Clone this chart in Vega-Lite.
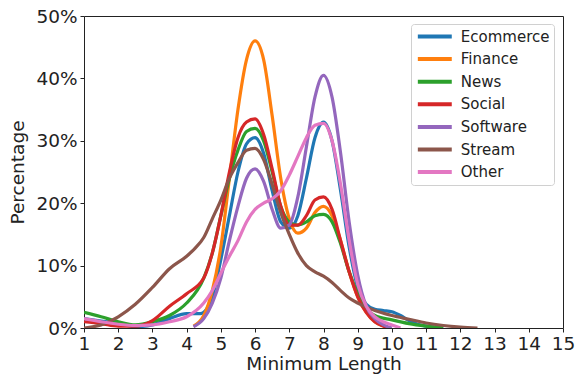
{
  "$schema": "https://vega.github.io/schema/vega-lite/v6.json",
  "width": 479,
  "height": 312,
  "autosize": {"type": "none"},
  "padding": {"left": 84, "top": 16, "right": 13, "bottom": 48},
  "background": "white",
  "config": {
    "font": "DejaVu Sans",
    "view": {"stroke": "#222", "strokeWidth": 1}
  },
  "datasets": {
    "kde": [
      {"c":"Ecommerce","x":1,"y":1.5},{"c":"Ecommerce","x":1.5,"y":1.1},{"c":"Ecommerce","x":2,"y":0.7},{"c":"Ecommerce","x":2.5,"y":0.2},{"c":"Ecommerce","x":3,"y":0.5},{"c":"Ecommerce","x":3.5,"y":1.5},{"c":"Ecommerce","x":4,"y":2.3},{"c":"Ecommerce","x":4.4,"y":2.3},{"c":"Ecommerce","x":4.75,"y":5},{"c":"Ecommerce","x":5,"y":11},{"c":"Ecommerce","x":5.25,"y":18},{"c":"Ecommerce","x":5.5,"y":25},{"c":"Ecommerce","x":5.75,"y":29.5},{"c":"Ecommerce","x":6,"y":30.5},{"c":"Ecommerce","x":6.25,"y":28},{"c":"Ecommerce","x":6.5,"y":22},{"c":"Ecommerce","x":6.75,"y":17},{"c":"Ecommerce","x":7,"y":16},{"c":"Ecommerce","x":7.25,"y":18},{"c":"Ecommerce","x":7.5,"y":24},{"c":"Ecommerce","x":7.75,"y":30.5},{"c":"Ecommerce","x":8,"y":33},{"c":"Ecommerce","x":8.25,"y":30},{"c":"Ecommerce","x":8.5,"y":22},{"c":"Ecommerce","x":8.75,"y":13},{"c":"Ecommerce","x":9,"y":6.5},{"c":"Ecommerce","x":9.25,"y":3.8},{"c":"Ecommerce","x":9.5,"y":3},{"c":"Ecommerce","x":9.75,"y":2.8},{"c":"Ecommerce","x":10,"y":2.6},{"c":"Ecommerce","x":10.25,"y":2},{"c":"Ecommerce","x":10.5,"y":1.2},{"c":"Ecommerce","x":10.75,"y":0.6},{"c":"Ecommerce","x":11,"y":0.3},{"c":"Ecommerce","x":11.5,"y":0},
      {"c":"Finance","x":4.2,"y":0.3},{"c":"Finance","x":4.5,"y":2},{"c":"Finance","x":4.75,"y":6},{"c":"Finance","x":5,"y":13},{"c":"Finance","x":5.25,"y":24},{"c":"Finance","x":5.5,"y":35},{"c":"Finance","x":5.75,"y":43},{"c":"Finance","x":6,"y":46},{"c":"Finance","x":6.25,"y":43},{"c":"Finance","x":6.5,"y":34},{"c":"Finance","x":6.75,"y":24},{"c":"Finance","x":7,"y":17.5},{"c":"Finance","x":7.25,"y":15.2},{"c":"Finance","x":7.5,"y":16},{"c":"Finance","x":7.75,"y":18.5},{"c":"Finance","x":8,"y":19.5},{"c":"Finance","x":8.25,"y":18},{"c":"Finance","x":8.5,"y":14},{"c":"Finance","x":8.75,"y":9},{"c":"Finance","x":9,"y":5},{"c":"Finance","x":9.25,"y":2.5},{"c":"Finance","x":9.5,"y":1},{"c":"Finance","x":9.75,"y":0.3},{"c":"Finance","x":9.9,"y":0},
      {"c":"News","x":1,"y":2.5},{"c":"News","x":1.5,"y":1.8},{"c":"News","x":2,"y":1},{"c":"News","x":2.5,"y":0.5},{"c":"News","x":3,"y":1},{"c":"News","x":3.5,"y":2},{"c":"News","x":4,"y":4},{"c":"News","x":4.5,"y":8},{"c":"News","x":4.75,"y":12},{"c":"News","x":5,"y":18},{"c":"News","x":5.25,"y":24},{"c":"News","x":5.5,"y":28.5},{"c":"News","x":5.75,"y":31.5},{"c":"News","x":6,"y":32},{"c":"News","x":6.25,"y":30},{"c":"News","x":6.5,"y":25},{"c":"News","x":6.75,"y":19.5},{"c":"News","x":7,"y":17},{"c":"News","x":7.25,"y":16.5},{"c":"News","x":7.5,"y":17},{"c":"News","x":7.75,"y":18},{"c":"News","x":8,"y":18.2},{"c":"News","x":8.25,"y":17},{"c":"News","x":8.5,"y":13.5},{"c":"News","x":8.75,"y":9},{"c":"News","x":9,"y":5.5},{"c":"News","x":9.25,"y":3},{"c":"News","x":9.5,"y":2},{"c":"News","x":10,"y":1.3},{"c":"News","x":10.5,"y":0.7},{"c":"News","x":11,"y":0.3},{"c":"News","x":11.5,"y":0},
      {"c":"Social","x":1,"y":1},{"c":"Social","x":1.5,"y":0.7},{"c":"Social","x":2,"y":0.3},{"c":"Social","x":2.5,"y":0.3},{"c":"Social","x":3,"y":1.2},{"c":"Social","x":3.5,"y":3.5},{"c":"Social","x":4,"y":5.5},{"c":"Social","x":4.5,"y":8},{"c":"Social","x":4.75,"y":12},{"c":"Social","x":5,"y":18},{"c":"Social","x":5.25,"y":25},{"c":"Social","x":5.5,"y":30.5},{"c":"Social","x":5.75,"y":33},{"c":"Social","x":6,"y":33.5},{"c":"Social","x":6.25,"y":31},{"c":"Social","x":6.5,"y":25.5},{"c":"Social","x":6.75,"y":19.5},{"c":"Social","x":7,"y":16.5},{"c":"Social","x":7.25,"y":16.5},{"c":"Social","x":7.5,"y":18},{"c":"Social","x":7.75,"y":20.5},{"c":"Social","x":8,"y":21},{"c":"Social","x":8.25,"y":19},{"c":"Social","x":8.5,"y":14},{"c":"Social","x":8.75,"y":9},{"c":"Social","x":9,"y":5},{"c":"Social","x":9.25,"y":2.5},{"c":"Social","x":9.5,"y":1},{"c":"Social","x":9.75,"y":0.3},{"c":"Social","x":9.9,"y":0},
      {"c":"Software","x":4.2,"y":0.2},{"c":"Software","x":4.5,"y":1.5},{"c":"Software","x":4.75,"y":4},{"c":"Software","x":5,"y":8},{"c":"Software","x":5.25,"y":14},{"c":"Software","x":5.5,"y":19.5},{"c":"Software","x":5.75,"y":24},{"c":"Software","x":6,"y":25.5},{"c":"Software","x":6.25,"y":23.5},{"c":"Software","x":6.5,"y":19},{"c":"Software","x":6.75,"y":16},{"c":"Software","x":7,"y":16.5},{"c":"Software","x":7.25,"y":21},{"c":"Software","x":7.5,"y":29},{"c":"Software","x":7.75,"y":37},{"c":"Software","x":8,"y":40.5},{"c":"Software","x":8.25,"y":37},{"c":"Software","x":8.5,"y":28},{"c":"Software","x":8.75,"y":17},{"c":"Software","x":9,"y":8.5},{"c":"Software","x":9.25,"y":3.5},{"c":"Software","x":9.5,"y":1.5},{"c":"Software","x":9.75,"y":0.5},{"c":"Software","x":10,"y":0},
      {"c":"Stream","x":1,"y":0},{"c":"Stream","x":1.5,"y":0.5},{"c":"Stream","x":2,"y":1.8},{"c":"Stream","x":2.5,"y":3.8},{"c":"Stream","x":3,"y":6.5},{"c":"Stream","x":3.5,"y":9.5},{"c":"Stream","x":4,"y":11.5},{"c":"Stream","x":4.25,"y":12.8},{"c":"Stream","x":4.5,"y":14.5},{"c":"Stream","x":4.75,"y":17.5},{"c":"Stream","x":5,"y":20.5},{"c":"Stream","x":5.25,"y":24},{"c":"Stream","x":5.5,"y":26.5},{"c":"Stream","x":5.75,"y":28.5},{"c":"Stream","x":6,"y":28.8},{"c":"Stream","x":6.25,"y":27},{"c":"Stream","x":6.5,"y":23},{"c":"Stream","x":6.75,"y":18.5},{"c":"Stream","x":7,"y":15},{"c":"Stream","x":7.25,"y":12},{"c":"Stream","x":7.5,"y":10},{"c":"Stream","x":7.75,"y":9},{"c":"Stream","x":8,"y":8.3},{"c":"Stream","x":8.25,"y":7.3},{"c":"Stream","x":8.5,"y":6},{"c":"Stream","x":8.75,"y":4.8},{"c":"Stream","x":9,"y":4},{"c":"Stream","x":9.5,"y":2.8},{"c":"Stream","x":10,"y":2},{"c":"Stream","x":10.5,"y":1.4},{"c":"Stream","x":11,"y":0.8},{"c":"Stream","x":11.5,"y":0.4},{"c":"Stream","x":12,"y":0.15},{"c":"Stream","x":12.5,"y":0},
      {"c":"Other","x":1,"y":1.5},{"c":"Other","x":1.5,"y":1},{"c":"Other","x":2,"y":0.6},{"c":"Other","x":2.5,"y":0.4},{"c":"Other","x":3,"y":0.5},{"c":"Other","x":3.5,"y":1},{"c":"Other","x":4,"y":1.8},{"c":"Other","x":4.5,"y":4},{"c":"Other","x":4.75,"y":6},{"c":"Other","x":5,"y":8.8},{"c":"Other","x":5.25,"y":11.5},{"c":"Other","x":5.5,"y":14},{"c":"Other","x":5.75,"y":17},{"c":"Other","x":6,"y":19},{"c":"Other","x":6.25,"y":20},{"c":"Other","x":6.5,"y":20.7},{"c":"Other","x":6.75,"y":22},{"c":"Other","x":7,"y":24.5},{"c":"Other","x":7.25,"y":27.5},{"c":"Other","x":7.5,"y":30.5},{"c":"Other","x":7.75,"y":32.5},{"c":"Other","x":8,"y":32.8},{"c":"Other","x":8.25,"y":30},{"c":"Other","x":8.5,"y":23},{"c":"Other","x":8.75,"y":14},{"c":"Other","x":9,"y":7},{"c":"Other","x":9.25,"y":3.5},{"c":"Other","x":9.5,"y":1.8},{"c":"Other","x":9.75,"y":1},{"c":"Other","x":10,"y":0.5},{"c":"Other","x":10.25,"y":0}
    ]
  },
  "data": {"name": "kde"},
  "mark": {"type": "line", "interpolate": "monotone", "strokeWidth": 3.2, "clip": true},
  "encoding": {
    "x": {
      "field": "x", "type": "quantitative",
      "scale": {"domain": [1, 15], "nice": false, "zero": false},
      "axis": {
        "title": "Minimum Length", "values": [1,2,3,4,5,6,7,8,9,10,11,12,13,14,15],
        "grid": false, "domain": false, "tickColor": "#222", "tickSize": 4,
        "labelFontSize": 18.5, "labelColor": "#222", "labelPadding": 2, "labelFlush": false,
        "titleFontSize": 18.5, "titleFontWeight": "normal", "titleColor": "#222", "titlePadding": 2
      }
    },
    "y": {
      "field": "y", "type": "quantitative",
      "scale": {"domain": [0, 50], "nice": false},
      "axis": {
        "title": "Percentage", "values": [0,10,20,30,40,50],
        "labelExpr": "datum.value + '%'",
        "grid": false, "domain": false, "tickColor": "#222", "tickSize": 4,
        "labelFontSize": 18.5, "labelColor": "#222", "labelPadding": 3, "labelFlush": false,
        "titleFontSize": 18.5, "titleFontWeight": "normal", "titleColor": "#222", "titlePadding": 8
      }
    },
    "color": {
      "field": "c", "type": "nominal",
      "scale": {
        "domain": ["Ecommerce","Finance","News","Social","Software","Stream","Other"],
        "range": ["#1f77b4","#ff7f0e","#2ca02c","#d62728","#9467bd","#8c564b","#e377c2"]
      },
      "legend": {
        "title": null, "orient": "none", "legendX": 327, "legendY": 8,
        "symbolType": "M-3,0H3", "symbolSize": 128, "symbolStrokeWidth": 4, "symbolOffset": 11.3,
        "labelFontSize": 15, "labelColor": "#222", "labelOffset": 18,
        "rowPadding": 6.6, "padding": 4.5, "strokeColor": "#d0d0d0", "cornerRadius": 3,
        "fillColor": "white"
      }
    }
  }
}
